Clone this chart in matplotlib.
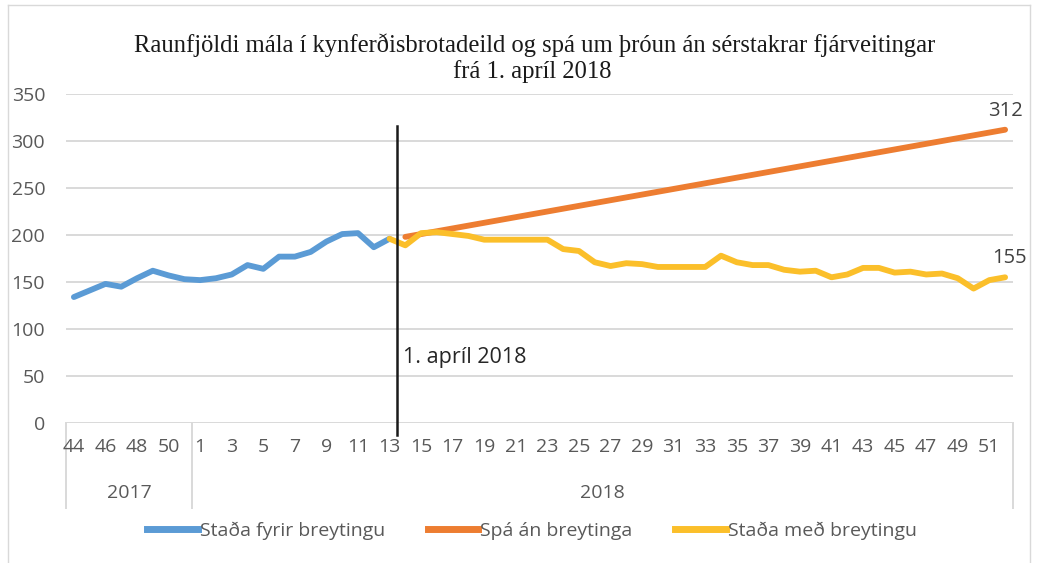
import numpy as np
import matplotlib.pyplot as plt
from matplotlib.lines import Line2D
import matplotlib.transforms as mtransforms

# Weeks on the category axis
weeks_2017 = [44, 45, 46, 47, 48, 49, 50, 51]
weeks_2018 = list(range(1, 53))
weeks = weeks_2017 + weeks_2018

# Staða fyrir breytingu: week 44 (2017) to week 13 (2018)
stada_fyrir = [134, 141, 148, 145, 154, 162, 157, 153, 152, 154, 158, 168,
               164, 177, 177, 182, 193, 201, 202, 187, 196]
# Staða með breytingu: week 13 to week 52 (2018)
stada_med = [196, 189, 202, 203, 201, 199, 195, 195, 195, 195, 195, 185, 183,
             171, 167, 170, 169, 166, 166, 166, 166, 178, 171, 168, 168, 163,
             161, 162, 155, 158, 165, 165, 160, 161, 158, 159, 154, 143, 152, 155]
# Spá án breytinga: week 14 to week 52 (2018)
spa_an = [198, 201, 204, 207, 210, 213, 216, 219, 222, 225, 228, 231, 234,
          237, 240, 243, 246, 249, 252, 255, 258, 261, 264, 267, 270, 273,
          276, 279, 282, 285, 288, 291, 294, 297, 300, 303, 306, 309, 312]

blue = '#5B9BD5'
orange = '#ED7D31'
yellow = '#FBBF2A'
grid_c = '#D9D9D9'
txt_c = '#595959'

plt.rcParams['font.family'] = ['Open Sans', 'DejaVu Sans']

fig = plt.figure(figsize=(10.37, 5.63), dpi=100)
ax = fig.add_axes([66 / 1037, 1 - 423 / 563, (1013 - 66) / 1037, (423 - 94) / 563])

idx = np.arange(len(weeks))
n17 = len(weeks_2017)
i13 = n17 + weeks_2018.index(13)
i14 = n17 + weeks_2018.index(14)

ax.plot(idx[:len(stada_fyrir)], stada_fyrir, color=blue, lw=4.2,
        solid_joinstyle='round', solid_capstyle='round', label='Staða fyrir breytingu', zorder=3)
ax.plot(idx[i14:i14 + len(spa_an)], spa_an, color=orange, lw=4.2,
        solid_joinstyle='round', solid_capstyle='round', label='Spá án breytinga', zorder=3)
ax.plot(idx[i13:i13 + len(stada_med)], stada_med, color=yellow, lw=4.2,
        solid_joinstyle='round', solid_capstyle='round', label='Staða með breytingu', zorder=4)

ax.set_xlim(-0.5, len(weeks) - 0.5)
ax.set_ylim(0, 350)
ax.set_yticks(range(0, 351, 50))
ax.yaxis.grid(True, color=grid_c, lw=1.4)
ax.set_axisbelow(True)
for s in ax.spines.values():
    s.set_visible(False)
ax.tick_params(axis='y', length=0, pad=15, labelsize=14, labelcolor=txt_c)

ax.set_xticks(idx[::2])
ax.set_xticklabels([str(w) for w in weeks[::2]])
ax.tick_params(axis='x', length=0, pad=11, labelsize=14, labelcolor=txt_c)

# category axis box
trans = mtransforms.blended_transform_factory(ax.transData, ax.transAxes)
box_bottom = -(508 - 423) / 329
for xb in [-0.5, n17 - 0.5, len(weeks) - 0.5]:
    ax.plot([xb, xb], [0, box_bottom], transform=trans, color=grid_c, lw=1.4,
            clip_on=False, zorder=0)
ax.text((n17 - 1) / 2, -0.212, '2017', transform=trans, ha='center', va='center',
        fontsize=14, color=txt_c)
ax.text((n17 + len(weeks) - 1) / 2, -0.212, '2018', transform=trans, ha='center', va='center',
        fontsize=14, color=txt_c)

# marker for 1. april 2018
xv = i14 - 0.5
ax.plot([xv, xv], [-13, 316], color='#1a1a1a', lw=1.8, clip_on=False, zorder=5)
ax.text(xv + 0.35, 70, '1. apríl 2018', fontsize=15.5, color='#262626', ha='left', va='center')

# end labels
ax.annotate(str(spa_an[-1]), (idx[-1], spa_an[-1]), xytext=(0, 6), textcoords='offset points',
            ha='center', va='bottom', fontsize=14.5, color='#404040')
ax.annotate(str(stada_med[-1]), (idx[-1], stada_med[-1]), xytext=(3, 7), textcoords='offset points',
            ha='center', va='bottom', fontsize=14.5, color='#404040')

fig.text(535 / 1037, 1 - 45 / 563, 'Raunfjöldi mála í kynferðisbrotadeild og spá um þróun án sérstakrar fjárveitingar',
         ha='center', va='center', fontsize=17.7, family='Liberation Serif', color='#1a1a1a')
fig.text(532 / 1037, 1 - 72 / 563, 'frá 1. apríl 2018',
         ha='center', va='center', fontsize=17.7, family='Liberation Serif', color='#1a1a1a')

handles = [Line2D([], [], color=c, lw=5) for c in (blue, orange, yellow)]
fig.legend(handles, ['Staða fyrir breytingu', 'Spá án breytinga', 'Staða með breytingu'],
           loc='center', bbox_to_anchor=(532 / 1037, 1 - 531 / 563), ncol=3, frameon=False,
           fontsize=14, handlelength=2.6, handletextpad=0.1, columnspacing=2.2, labelcolor=txt_c)

# chart border
for xs, ys in [([8, 8], [5, 563]), ([8, 1030], [5, 5]), ([1030, 1030], [5, 563])]:
    fig.add_artist(Line2D([x / 1037 for x in xs], [1 - y / 563 for y in ys], color='#D9D9D9', lw=1))

fig.savefig('out.png', dpi=100)
